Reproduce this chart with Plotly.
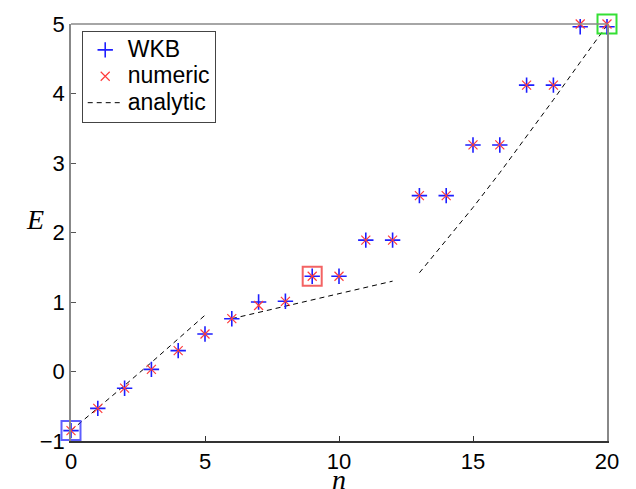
import plotly.graph_objects as go

# ---- data ----
n_vals = list(range(21))
wkb_E = [-0.85, -0.53, -0.24, 0.03, 0.30, 0.54, 0.76, 1.00, 1.01, 1.37, 1.37,
         1.89, 1.89, 2.53, 2.53, 3.26, 3.26, 4.12, 4.12, 4.96, 4.96]
numeric_E = [-0.85, -0.53, -0.24, 0.03, 0.30, 0.54, 0.76, 0.95, 1.01, 1.37, 1.37,
             1.89, 1.89, 2.53, 2.53, 3.26, 3.26, 4.12, 4.12, 5.00, 5.00]

an1_n = [0, 1, 2, 3, 4, 5]
an1_E = [-0.85, -0.53, -0.20, 0.13, 0.47, 0.81]
an2_n = [6, 7, 8, 9, 10, 11, 12]
an2_E = [0.76, 0.85, 0.94, 1.03, 1.12, 1.21, 1.30]
an3_n = [13, 14, 15, 16, 17, 18, 19, 20]
an3_E = [1.42, 1.89, 2.36, 2.86, 3.38, 3.91, 4.45, 4.98]

# highlighted points (squares)
hl_n = [0, 9, 20]
hl_E = [-0.85, 1.37, 5.00]
hl_colors = ["rgba(40,40,255,0.75)", "rgba(240,60,60,0.8)", "rgba(30,220,30,0.9)"]

x_ticks = [0, 5, 10, 15, 20]
y_ticks = [-1, 0, 1, 2, 3, 4, 5]

series_names = ["WKB", "numeric", "analytic"]

an_n = an1_n + [None] + an2_n + [None] + an3_n
an_E = an1_E + [None] + an2_E + [None] + an3_E


def legend_label(s):
    return '<span style="font-size:23px">' + s + '</span>'


fig = go.Figure()

fig.add_trace(go.Scatter(
    x=an_n, y=an_E, mode="lines", name=legend_label(series_names[2]),
    line=dict(color="black", width=1, dash="5px,4px"),
    connectgaps=False, cliponaxis=False, legendrank=3))

for xn, yE, c in zip(hl_n, hl_E, hl_colors):
    fig.add_trace(go.Scatter(
        x=[xn], y=[yE], mode="markers", showlegend=False,
        marker=dict(symbol="square-open", size=19, color=c,
                    line=dict(color=c, width=2)),
        cliponaxis=False))

fig.add_trace(go.Scatter(
    x=n_vals, y=wkb_E, mode="markers", name=legend_label(series_names[0]),
    marker=dict(symbol="cross-thin", size=11,
                line=dict(color="rgb(30,30,255)", width=1.6)),
    cliponaxis=False, legendrank=1))

fig.add_trace(go.Scatter(
    x=n_vals, y=numeric_E, mode="markers", name=legend_label(series_names[1]),
    marker=dict(symbol="x-thin", size=9,
                line=dict(color="rgb(255,60,60)", width=1.2)),
    cliponaxis=False, legendrank=2))

tick_font = dict(family="Liberation Sans, Arial, sans-serif", size=22, color="black")

fig.update_layout(
    width=636, height=489,
    margin=dict(l=71, r=29, t=19, b=48),
    paper_bgcolor="white", plot_bgcolor="white",
    showlegend=True,
    legend=dict(
        x=0.02, y=0.984, xanchor="left", yanchor="top",
        bgcolor="white", bordercolor="#444", borderwidth=1,
        itemwidth=35, tracegroupgap=0,
        font=dict(family="Liberation Sans, Arial, sans-serif", size=18, color="black")),
    xaxis=dict(range=[0, 20], tickvals=x_ticks, ticks="inside", ticklen=5,
               tickcolor="#333", showgrid=False, zeroline=False,
               showline=True, linecolor="#333", linewidth=1.5,
               tickfont=tick_font),
    yaxis=dict(range=[-1, 5], tickvals=y_ticks, ticks="inside", ticklen=5,
               tickcolor="#555", showgrid=False, zeroline=False,
               showline=True, linecolor="#888", linewidth=1.5,
               tickfont=tick_font, mirror=True),
    shapes=[dict(type="line", xref="paper", yref="paper", x0=0, x1=1, y0=1, y1=1,
                 line=dict(color="#888", width=1.5))],
    annotations=[
        dict(text="<i>E</i>", xref="paper", yref="y", x=-0.047, y=2.18,
             xanchor="right", yanchor="middle", showarrow=False,
             font=dict(family="Liberation Serif, Times New Roman, serif", size=28, color="black")),
        dict(text="<i>n</i>", xref="x", yref="paper", x=10, y=-0.092,
             xanchor="center", yanchor="middle", showarrow=False,
             font=dict(family="Liberation Serif, Times New Roman, serif", size=28, color="black")),
    ],
)

fig.write_html("out.html")
